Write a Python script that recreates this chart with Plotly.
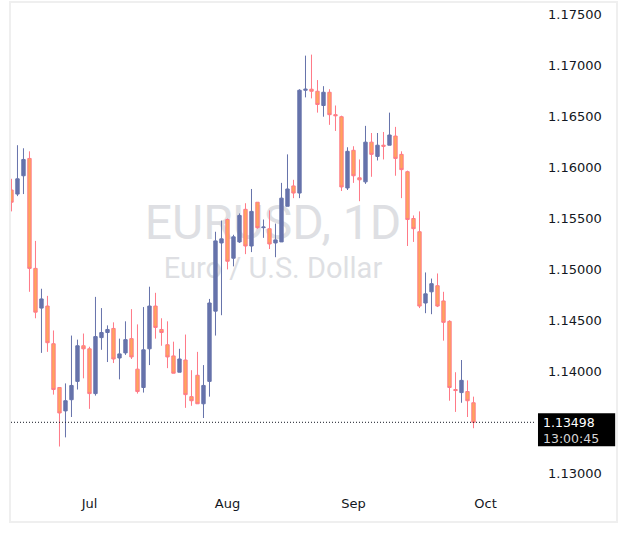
import numpy as np
import pandas as pd
import plotly.graph_objects as go

# ---- data ----
dates = pd.bdate_range("2025-06-12", "2025-09-29")

opens = [1.1578, 1.1574, 1.1592, 1.1609, 1.1501, 1.1462, 1.1464, 1.1427, 1.1384, 1.1361,
         1.1372, 1.1390, 1.1425, 1.1422, 1.1378, 1.1433, 1.1438, 1.1442, 1.1413, 1.1418,
         1.1432, 1.1402, 1.1384, 1.1422, 1.1464, 1.1441, 1.1426, 1.1415, 1.1399, 1.1411,
         1.1375, 1.1396, 1.1368, 1.1390, 1.1459, 1.1526, 1.1549, 1.1511, 1.1527, 1.1559,
         1.1523, 1.1566, 1.1541, 1.1540, 1.1526, 1.1527, 1.1562, 1.1582, 1.1575, 1.1676,
         1.1677, 1.1675, 1.1661, 1.1674, 1.1652, 1.1650, 1.1580, 1.1617, 1.1590, 1.1586,
         1.1625, 1.1611, 1.1622, 1.1622, 1.1631, 1.1613, 1.1596, 1.1550, 1.1537, 1.1467,
         1.1478, 1.1484, 1.1469, 1.1449, 1.1382, 1.1379, 1.1380, 1.1369]

highs = [1.1589, 1.1622, 1.1619, 1.1616, 1.1528, 1.1481, 1.1474, 1.1440, 1.1384, 1.1388,
         1.1435, 1.1431, 1.1437, 1.1424, 1.1473, 1.1462, 1.1445, 1.1448, 1.1432, 1.1449,
         1.1461, 1.1446, 1.1463, 1.1483, 1.1477, 1.1452, 1.1449, 1.1429, 1.1422, 1.1436,
         1.1401, 1.1419, 1.1406, 1.1471, 1.1537, 1.1548, 1.1550, 1.1534, 1.1555, 1.1565,
         1.1579, 1.1566, 1.1549, 1.1558, 1.1545, 1.1585, 1.1613, 1.1588, 1.1677, 1.1710,
         1.1711, 1.1686, 1.1680, 1.1677, 1.1661, 1.1651, 1.1620, 1.1621, 1.1608, 1.1641,
         1.1634, 1.1634, 1.1635, 1.1654, 1.1640, 1.1616, 1.1597, 1.1553, 1.1557, 1.1497,
         1.1491, 1.1496, 1.1478, 1.1450, 1.1399, 1.1411, 1.1391, 1.1375]

lows = [1.1557, 1.1572, 1.1574, 1.1478, 1.1452, 1.1418, 1.1419, 1.1377, 1.1326, 1.1335,
        1.1355, 1.1382, 1.1393, 1.1363, 1.1376, 1.1421, 1.1409, 1.1408, 1.1392, 1.1416,
        1.1412, 1.1378, 1.1379, 1.1406, 1.1432, 1.1425, 1.1403, 1.1398, 1.1399, 1.1364,
        1.1366, 1.1368, 1.1354, 1.1375, 1.1435, 1.1455, 1.1500, 1.1503, 1.1526, 1.1515,
        1.1517, 1.1540, 1.1531, 1.1520, 1.1512, 1.1527, 1.1562, 1.1570, 1.1570, 1.1669,
        1.1668, 1.1654, 1.1650, 1.1642, 1.1636, 1.1577, 1.1578, 1.1585, 1.1567, 1.1584,
        1.1591, 1.1607, 1.1608, 1.1622, 1.1592, 1.1570, 1.1523, 1.1527, 1.1462, 1.1457,
        1.1456, 1.1463, 1.1430, 1.1371, 1.1360, 1.1369, 1.1355, 1.1344]

closes = [1.1566, 1.1589, 1.1608, 1.1501, 1.1458, 1.1471, 1.1428, 1.1382, 1.1359, 1.1371,
          1.1386, 1.1425, 1.1422, 1.1378, 1.1434, 1.1438, 1.1441, 1.1412, 1.1417, 1.1431,
          1.1414, 1.1380, 1.1421, 1.1464, 1.1443, 1.1438, 1.1414, 1.1398, 1.1412, 1.1377,
          1.1371, 1.1368, 1.1386, 1.1467, 1.1528, 1.1530, 1.1508, 1.1532, 1.1553, 1.1523,
          1.1557, 1.1541, 1.15416, 1.1525, 1.1529, 1.1570, 1.1579, 1.1575, 1.1676, 1.1677,
          1.1675, 1.1662, 1.1674, 1.1652, 1.1651, 1.1581, 1.1616, 1.1592, 1.1588, 1.1625,
          1.1613, 1.1622, 1.1621, 1.1632, 1.1609, 1.1598, 1.1549, 1.1540, 1.1464, 1.1476,
          1.1486, 1.1464, 1.1448, 1.1384, 1.1381, 1.1391, 1.1371, 1.13498]

y_ticks = [1.130, 1.135, 1.140, 1.145, 1.150, 1.155, 1.160, 1.165, 1.170, 1.175]
month_labels = ["Jul", "Aug", "Sep", "Oct"]
symbol_title = "EURUSD, 1D"
symbol_desc = "Euro / U.S. Dollar"
clock_text = "13:00:45"

# ---- positions from calendar ----
x = np.arange(len(dates))
calendar = pd.bdate_range("2025-06-12", "2025-10-01")
month_tick_idx = [i for i in range(1, len(calendar)) if calendar[i].month != calendar[i - 1].month]

BULL = "#6673AB"
BEAR_FILL = "#FFA45C"
BEAR_LINE = "#FF7A87"
TXT = "#131722"
FONT = "DejaVu Sans"

fig = go.Figure()
fig.add_trace(go.Candlestick(
    x=x, open=opens, high=highs, low=lows, close=closes,
    increasing=dict(line=dict(color=BULL, width=1), fillcolor=BULL),
    decreasing=dict(line=dict(color=BEAR_LINE, width=1), fillcolor=BEAR_FILL),
    whiskerwidth=0, showlegend=False, hoverinfo="skip",
))

last = closes[-1]

shapes = [
    # watermark (behind candles)
    dict(type="rect", xref="paper", yref="paper", x0=0.2, x1=0.8, y0=0.52, y1=0.59,
         line=dict(width=0), fillcolor="rgba(0,0,0,0)", layer="below",
         label=dict(text=symbol_title, textposition="middle center",
                    font=dict(family="Roboto", size=48, color="#DEDFE3"))),
    dict(type="rect", xref="paper", yref="paper", x0=0.2, x1=0.8, y0=0.435, y1=0.485,
         line=dict(width=0), fillcolor="rgba(0,0,0,0)", layer="below",
         label=dict(text=symbol_desc, textposition="middle center",
                    font=dict(family="Roboto", size=29, color="#DEDFE3"))),
    # last price dotted line
    dict(type="line", xref="paper", yref="y", x0=0, x1=1, y0=last, y1=last,
         line=dict(color=TXT, width=1, dash="1px,2px"), layer="above"),
    # frame
    dict(type="rect", xref="paper", yref="paper", x0=-0.0019, x1=1.1565, y0=-0.0657, y1=1.002,
         line=dict(color="#EFEFEF", width=2), fillcolor="rgba(0,0,0,0)", layer="above"),
    # black price box behind the two label lines
    dict(type="rect", xref="paper", yref="y", x0=1.0057, x1=1.153,
         y0=last - 24 / 10180, y1=last + 9 / 10180,
         line=dict(width=0), fillcolor="#000000", layer="above"),
]

box_common = dict(xref="paper", x=1, xanchor="left", xshift=7, yref="y", y=last,
                  showarrow=False, align="left", borderpad=0)

fig.update_layout(
    width=629, height=540,
    margin=dict(l=11, r=94, t=3, b=50),
    paper_bgcolor="white", plot_bgcolor="white",
    showlegend=False,
    boxgap=0.2,
    shapes=shapes,
    xaxis=dict(
        range=[-0.08, 87.25], rangeslider=dict(visible=False),
        tickmode="array", tickvals=month_tick_idx, ticktext=month_labels,
        showgrid=False, zeroline=False, showline=False, ticks="",
        tickfont=dict(family=FONT, size=13, color=TXT), ticklabelstandoff=4,
    ),
    yaxis=dict(
        side="right", range=[1.12833, 1.17617],
        tickmode="array", tickvals=y_ticks, tickformat=".5f",
        showgrid=False, zeroline=False, showline=False, ticks="",
        tickfont=dict(family=FONT, size=13, color=TXT), ticklabelstandoff=12,
    ),
    annotations=[
        dict(**box_common, yanchor="middle", yshift=0, text=f"{last:.5f}",
             font=dict(family=FONT, size=12.5, color="white")),
        dict(**box_common, yanchor="middle", yshift=-16, text=clock_text,
             font=dict(family=FONT, size=12.5, color="#D6D6D6")),
    ],
)

fig.write_html("out.html", config={"displayModeBar": False},
               post_script="document.body.style.margin='0px';")
